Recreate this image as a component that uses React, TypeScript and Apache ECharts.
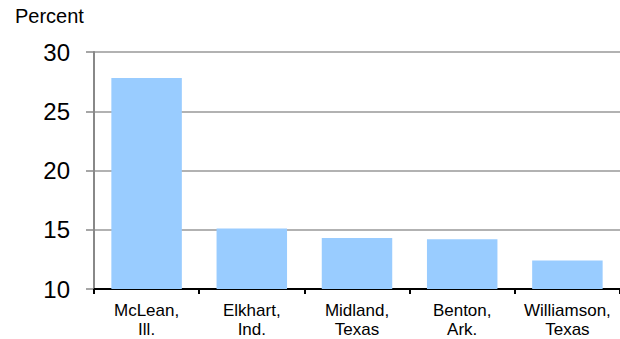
import React, { useEffect, useRef } from "react";
import * as echarts from "echarts";

const categories = ["McLean,\nIll.", "Elkhart,\nInd.", "Midland,\nTexas", "Benton,\nArk.", "Williamson,\nTexas"];
const values = [27.8, 15.1, 14.3, 14.2, 12.4];
const yTicks = { min: 10, max: 30, interval: 5 };
const unitLabel = "Percent";

const FONT = "'Liberation Sans', Arial, sans-serif";

export default function App() {
  const ref = useRef<HTMLDivElement>(null);
  useEffect(() => {
    if (!ref.current) return;
    const chart = echarts.init(ref.current, null, { renderer: "svg" });
    chart.setOption({
      animation: false,
      backgroundColor: "#ffffff",
      graphic: [
        {
          type: "text",
          left: 15,
          top: 6,
          style: { text: unitLabel, font: `20px ${FONT}`, fill: "#000" },
        },
      ],
      grid: { left: 94, right: -4, top: 52, bottom: 47, containLabel: false },
      xAxis: {
        type: "category",
        data: categories,
        boundaryGap: true,
        axisLine: { show: true, lineStyle: { color: "#000", width: 2 } },
        axisTick: { show: true, length: 5, lineStyle: { color: "#000", width: 2 } },
        axisLabel: {
          interval: 0,
          fontFamily: FONT,
          fontSize: 17,
          lineHeight: 19,
          color: "#000",
          margin: 12,
        },
        splitLine: { show: false },
      },
      yAxis: {
        type: "value",
        min: yTicks.min,
        max: yTicks.max,
        interval: yTicks.interval,
        axisLine: { show: true, lineStyle: { color: "#888", width: 2 } },
        axisTick: { show: true, length: 8, lineStyle: { color: "#888", width: 1.5 } },
        axisLabel: { fontFamily: FONT, fontSize: 24, color: "#000", margin: 24 },
        splitLine: { show: true, lineStyle: { color: "#999", width: 1.5 } },
      },
      series: [
        {
          type: "bar",
          data: values,
          barWidth: "67%",
          itemStyle: { color: "#99CCFF" },
        },
      ],
    });
    return () => chart.dispose();
  }, []);
  return (
    <div
      ref={ref}
      style={{ position: "fixed", left: 0, top: 0, width: 620, height: 339 }}
    />
  );
}
